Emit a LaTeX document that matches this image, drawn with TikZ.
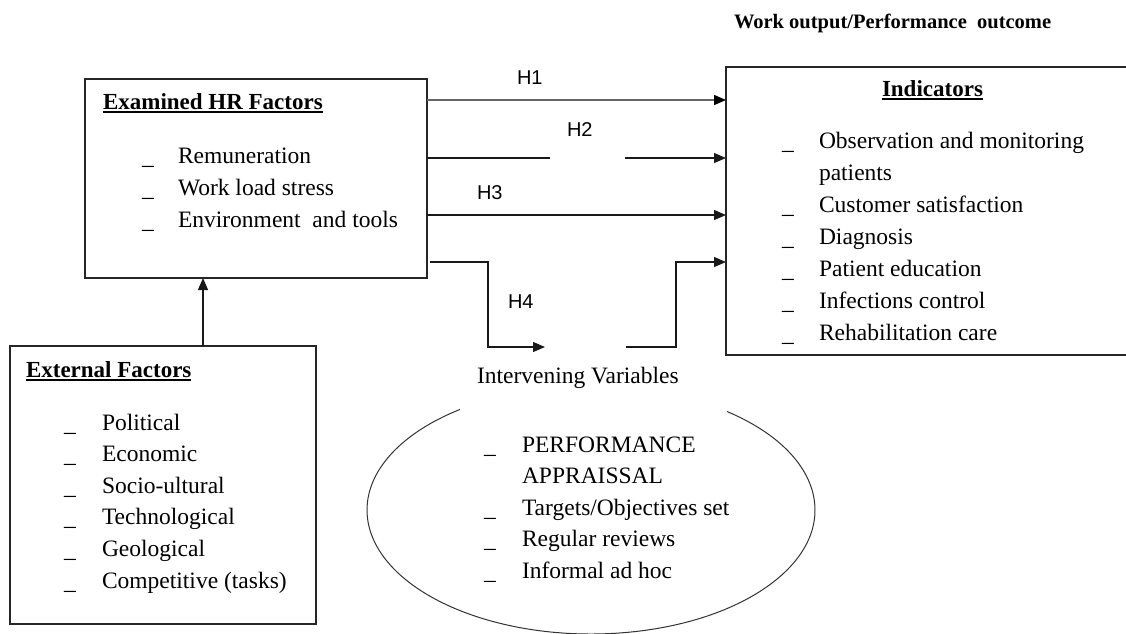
\documentclass[tikz,border=0pt]{standalone}
\usepackage{fontspec}
\setmainfont{Liberation Serif}
\newfontfamily\hsans{Liberation Sans}
\usetikzlibrary{arrows.meta}

\begin{document}
\begin{tikzpicture}[x=1pt,y=1pt,
  every node/.style={inner sep=0pt, outer sep=0pt},
  boxframe/.style={draw=black!85, line width=1.3pt},
  txt/.style={anchor=base west, font=\fontsize{23.5}{28}\selectfont},
  ttl/.style={anchor=base west, font=\fontsize{23}{28}\selectfont\bfseries},
  hlab/.style={anchor=base west, font=\hsans\fontsize{20}{24}\selectfont},
  conn/.style={line width=1.2pt, draw=black!90},
  arr/.style={conn, -{Triangle[length=12pt,width=10pt]}},
  uline/.style={line width=1.1pt},
]
\clip (0,0) rectangle (1126,-633);
\useasboundingbox (0,0) rectangle (1126,-633);

% boxes
\node[boxframe, anchor=north west, minimum width=342pt, minimum height=199pt] (hr) at (85,-79) {};
\node[boxframe, anchor=north west, minimum width=430pt, minimum height=288pt] (ind) at (726,-67) {};
\node[boxframe, anchor=north west, minimum width=306pt, minimum height=278pt] (ext) at (10,-346) {};

% heading over the indicators
\node[anchor=base west, font=\fontsize{20.5}{24}\selectfont\bfseries] (wo) at (734,-28) {Work output/Performance\ \ outcome};

% examined HR factors
\node[ttl] (hrt) at (103,-109) {Examined HR Factors};
\draw[uline] ([yshift=-3pt]hrt.base west) -- ([yshift=-3pt]hrt.base east);
\foreach \t [count=\i] in {Remuneration, Work load stress, Environment\ \ and tools} {
  \node[txt] (hrb\i) at (142,{-164-32*(\i-1)}) {\_};
  \node[txt] (hri\i) at (178,{-163-32*(\i-1)}) {\t};
}

% indicators
\node[ttl] (indt) at (882,-96) {Indicators};
\draw[uline] ([yshift=-3pt]indt.base west) -- ([yshift=-3pt]indt.base east);
\foreach \t [count=\i] in {Observation and monitoring, patients, Customer satisfaction, Diagnosis, Patient education, Infections control, Rehabilitation care} {
  \node[txt] (indi\i) at (819,{-148-32*(\i-1)}) {\t};
}
\foreach \i in {1,3,4,5,6,7} {
  \node[txt] (indb\i) at (782,{-149-32*(\i-1)}) {\_};
}

% external factors
\node[ttl] (extt) at (26,-377) {External Factors};
\draw[uline] ([yshift=-3pt]extt.base west) -- ([yshift=-3pt]extt.base east);
\foreach \t [count=\i] in {Political, Economic, Socio-ultural, Technological, Geological, Competitive (tasks)} {
  \node[txt] (extb\i) at (64,{-431-31.6*(\i-1)}) {\_};
  \node[txt] (exti\i) at (102,{-430-31.6*(\i-1)}) {\t};
}

% intervening variables
\node[txt] (ivt) at (477,-383) {Intervening Variables};
\coordinate (ellc) at (591,-510);
\draw[line width=1pt, draw=black!80]
  ([shift={(52.6:224pt and 124pt)}]ellc)
  arc[start angle=52.6, end angle=-234.2, x radius=224pt, y radius=124pt];
\foreach \t [count=\i] in {PERFORMANCE, APPRAISSAL, Targets/Objectives set, Regular reviews, Informal ad hoc} {
  \node[txt] (ivi\i) at (522,{-452-31.5*(\i-1)}) {\t};
}
\foreach \i in {1,3,4,5} {
  \node[txt] (ivb\i) at (484,{-453-31.5*(\i-1)}) {\_};
}

% hypotheses connectors
\coordinate (r1) at (0,-100);
\coordinate (g2a) at (550,-158);
\coordinate (g2b) at (625,-158);
\coordinate (r3) at (0,-215);
\coordinate (r4) at (0,-262);
\coordinate (h4k) at (488,-347);
\coordinate (h4e) at (545,-347);
\coordinate (h4r) at (626,-347);
\coordinate (h4u) at (676,-262);
\coordinate (upx) at (203,0);

\draw[arr, draw=black!60, line width=1.5pt, -{Triangle[length=12pt,width=10pt,color=black]}]
  (hr.east |- r1) -- (ind.west |- r1);
\draw[conn] (hr.east |- g2a) -- (g2a);
\draw[arr] (g2b) -- (ind.west |- g2b);
\draw[arr] (hr.east |- r3) -- (ind.west |- r3);
\draw[arr] ([xshift=3pt]hr.east |- r4) -| (h4k) -- (h4e);
\draw[arr] (h4r) -| (h4u) -- (ind.west |- r4);
\draw[arr] (upx |- ext.north) -- (upx |- hr.south);

\node[hlab] (h1) at (517,-84) {H1};
\node[hlab] (h2) at (567,-136) {H2};
\node[hlab] (h3) at (477,-199) {H3};
\node[hlab] (h4) at (508,-308) {H4};
\end{tikzpicture}
\end{document}
